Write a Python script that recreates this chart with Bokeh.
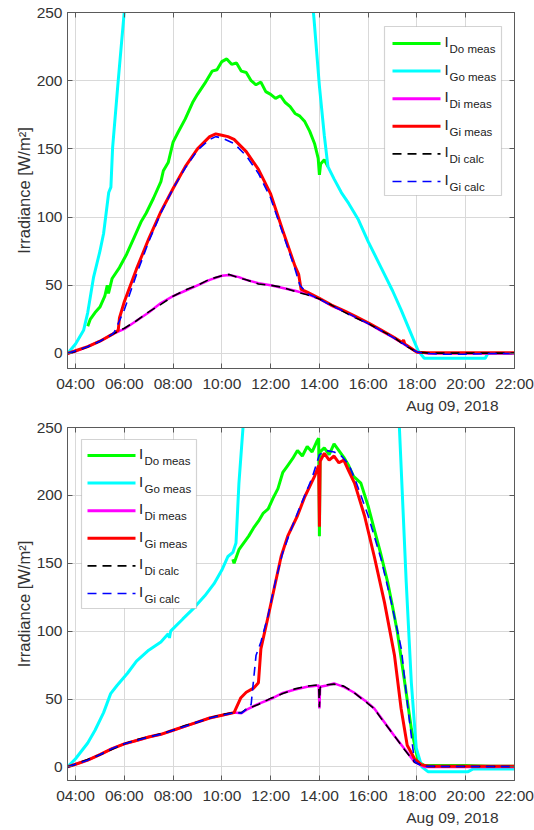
from bokeh.plotting import figure
from bokeh.layouts import column
from bokeh.models import Range1d, FixedTicker, LinearAxis, Label, Arrow, BoxAnnotation, Title
from bokeh.embed import file_html
from bokeh.resources import INLINE

# ---------------- data ----------------
x_ticks = [4, 6, 8, 10, 12, 14, 16, 18, 20, 22]
x_tick_labels = ["04:00", "06:00", "08:00", "10:00", "12:00", "14:00", "16:00", "18:00", "20:00", "22:00"]
y_ticks = [0, 50, 100, 150, 200, 250]
date_label = "Aug 09, 2018"
y_label = "Irradiance [W/m\u00b2]"
legend_main = "I"
legend_subs = ["Do meas", "Go meas", "Di meas", "Gi meas", "Di calc", "Gi calc"]

# ---- top panel ----
t_do_h = [4.5, 4.6, 4.8, 5.0, 5.2, 5.3, 5.35, 5.5, 5.8, 6.1, 6.4, 6.7, 6.9, 7.2, 7.5, 7.6, 7.8, 8.0, 8.2, 8.5,
          8.8, 9.0, 9.3, 9.6, 9.8, 10.0, 10.2, 10.4, 10.6, 10.8, 11.0, 11.2, 11.4, 11.6, 11.8, 12.0, 12.2, 12.4,
          12.6, 12.8, 13.0, 13.2, 13.4, 13.6, 13.8, 13.95, 14.0, 14.05, 14.2, 14.35]
t_do_v = [20, 25, 30, 34, 42, 50, 44, 55, 63, 73, 85, 97, 103, 114, 126, 134, 140, 155, 162, 172,
          184, 190, 198, 207, 208, 214, 216, 212, 213, 207, 206, 200, 197, 199, 192, 190, 187, 189,
          184, 181, 176, 174, 170, 163, 154, 143, 131, 139, 142, 137]

t_go_h = [3.67, 4.0, 4.33, 4.5, 4.74, 5.0, 5.15, 5.36, 5.45, 5.52, 5.73, 5.97, 6.2, 6.5, 8.0, 10.0, 12.0,
          13.3, 13.78, 14.0, 14.2, 14.35, 14.6, 14.9, 15.2, 15.6, 16.0, 16.53, 17.0, 17.35, 17.7, 18.05,
          18.3, 19.0, 20.0, 20.8, 20.9, 22.0]
t_go_v = [0, 7, 17, 30, 56, 75, 88, 118, 122, 151, 196, 245, 290, 340, 550, 650, 550,
          340, 245, 196, 160, 137, 128, 118, 110, 98, 82, 63, 46, 32, 17, 2,
          -3.5, -3.5, -3.5, -3.5, 0, 0]

t_di_h = [3.67, 4.0, 4.5, 5.0, 5.5, 6.0, 6.5, 7.0, 7.5, 8.0, 8.5, 9.0, 9.5, 10.0, 10.3, 10.7, 11.0, 11.5,
          12.0, 12.5, 13.0, 13.5, 14.0, 14.5, 15.0, 15.5, 16.0, 16.5, 17.0, 17.5, 18.0, 18.5, 19.0, 20.0,
          21.0, 22.0]
t_di_v = [0, 1.5, 5, 9, 14, 18, 24, 30, 37, 42, 46, 50, 54, 57, 57.5, 56, 54, 51.5,
          50, 48, 46, 43.5, 40, 35, 31, 26.5, 22, 17, 12, 6.5, 1, 0, 0, 0, 0, 0]
t_dic_v = [0, 1.5, 5, 9, 14, 18.5, 24, 30.5, 36, 42, 46.5, 50, 54.5, 57, 58, 55.5, 54, 51,
           50, 48.5, 45.5, 43, 40, 35.5, 30.5, 26, 22, 17, 12.5, 6, 1, 0.3, 0.3, 0.3, 0.3, 0.3]

t_gi_h = [3.67, 4.0, 4.5, 5.0, 5.5, 5.75, 5.8, 6.0, 6.5, 7.0, 7.5, 8.0, 8.5, 9.0, 9.5, 9.75, 10.0, 10.25,
          10.5, 11.0, 11.5, 12.0, 12.5, 13.0, 13.15, 13.25, 13.5, 14.0, 14.5, 15.0, 15.5, 16.0, 16.5,
          17.0, 17.4, 17.45, 17.5, 18.0, 18.5, 19.0, 20.0, 21.0, 22.0]
t_gi_v = [0, 2, 5, 9, 14, 17, 26, 38, 62, 84, 104, 121, 137, 150, 159, 161, 160, 159,
          157, 148, 135, 117, 90, 64, 58, 47, 45, 40.5, 35.5, 31.5, 27, 22.5, 17.5,
          12.5, 8, 10, 7, 1, 0.5, 0.5, 0.5, 0.5, 0.5]

t_gic_h = [3.67, 4.0, 4.5, 5.0, 5.5, 5.6, 6.0, 6.5, 7.0, 7.5, 8.0, 8.5, 9.0, 9.5, 9.75, 10.0, 10.5, 11.0,
           11.5, 12.0, 12.5, 13.0, 13.2, 13.5, 14.0, 14.5, 15.0, 15.5, 16.0, 16.5, 17.0, 17.5, 18.0,
           18.5, 19.0, 20.0, 21.0, 22.0]
t_gic_v = [0, 2, 5, 9, 14, 16, 32, 58, 82, 103, 121, 136, 149, 157, 159, 158, 154, 145,
           132, 114, 88, 62, 50, 44, 40, 35, 31, 26.5, 22, 17, 12, 6.5, 1,
           0, -0.5, -0.5, 0, 0]

# ---- bottom panel ----
b_do_h = [10.45, 10.5, 10.7, 10.9, 11.1, 11.3, 11.5, 11.7, 11.9, 12.1, 12.3, 12.5, 12.7, 12.9, 13.1, 13.3,
          13.5, 13.7, 13.9, 13.97, 14.0, 14.03, 14.2, 14.4, 14.6, 14.8, 15.0, 15.2, 15.4, 15.7, 16.0, 16.25,
          16.5, 16.8, 17.0, 17.2, 17.5, 17.77, 18.05, 18.3, 19.0, 20.0, 21.0, 22.0]
b_do_v = [153, 150, 160, 165, 170, 176, 181, 187, 190, 198, 205, 217, 222, 227, 233, 229,
          236, 232, 240, 242, 170, 232, 235, 230, 238, 233, 228, 222, 214, 209, 192, 175,
          158, 136, 118, 99, 62, 28, 4, 1, 1, 1, 0.5, 0.5]

b_go_h = [3.67, 4.0, 4.5, 4.8, 5.15, 5.44, 5.7, 6.13, 6.5, 7.0, 7.5, 7.8, 7.85, 7.9, 8.4, 8.85, 9.3, 9.68,
          10.0, 10.25, 10.45, 10.58, 10.7, 10.9, 11.2, 12.0, 14.0, 16.0, 17.0, 17.28, 17.56, 17.77, 17.97,
          18.2, 18.45, 20.1, 20.3, 22.0]
b_go_v = [0, 6, 17.6, 27, 40, 54, 60, 69, 78, 86, 92, 98, 95, 100, 109, 117, 126, 135,
          145, 155, 158, 165, 209, 258, 330, 500, 650, 500, 320, 250, 136, 62, 14,
          0, -3.5, -3.5, -1.5, -1.5]

b_di_h = [3.67, 4.0, 4.5, 5.0, 5.5, 6.0, 6.5, 7.0, 7.5, 8.0, 8.5, 9.0, 9.5, 10.0, 10.5, 10.8, 11.0, 11.5,
          12.0, 12.5, 13.0, 13.5, 13.97, 14.0, 14.03, 14.3, 14.6, 15.0, 15.4, 16.0, 16.25, 16.5, 17.07,
          17.5, 17.9, 18.3, 19.0, 20.0, 21.0, 22.0]
b_di_v = [0, 2, 5, 9, 13.5, 17, 19.5, 22, 24, 27, 30, 33, 36, 38, 40, 39.5, 42, 46.5,
          50, 54.5, 57, 59, 60, 43, 59, 60, 61.5, 59, 55, 47, 43, 37, 23,
          13, 3.7, 0, 0, 0, 0, 0]
b_dic_v = [0, 2, 5.5, 9, 13, 17, 20, 22, 24.5, 27, 30.5, 33, 36, 38.5, 40, 40, 42.5, 46,
           50.5, 54, 57.5, 59.5, 60.5, 44, 58.5, 60.5, 61, 59.5, 55, 46.5, 43, 36.5, 23,
           12.5, 3.5, 0.3, 0.3, 0.3, 0.3, 0.3]

b_gi_h = [3.67, 4.0, 4.5, 5.0, 5.5, 6.0, 6.5, 7.0, 7.5, 8.0, 8.5, 9.0, 9.5, 10.0, 10.5, 10.78, 11.0, 11.3,
          11.5, 11.6, 11.9, 12.2, 12.43, 12.7, 13.1, 13.4, 13.8, 13.97, 14.0, 14.03, 14.2, 14.4, 14.6, 14.8,
          15.0, 15.2, 15.44, 15.85, 16.25, 16.67, 17.08, 17.35, 17.6, 17.9, 18.2, 18.5, 19.0, 20.0, 21.0, 22.0]
b_gi_v = [0, 2, 5, 9, 13.5, 17, 19.5, 22, 24, 27, 30, 33, 36, 38, 40, 51, 55, 58,
          62, 87, 111, 136, 155, 170, 185, 199, 214, 222, 177, 225, 231, 226, 229, 224,
          226, 218, 209, 185, 155, 121, 82, 43, 16, 6, 1.5, 0.5, 0.5, 0.5, 0.5, 0.5]

b_gic_h = [3.67, 4.0, 4.5, 5.0, 5.5, 6.0, 6.5, 7.0, 7.5, 8.0, 8.5, 9.0, 9.5, 10.0, 10.5, 10.8, 11.1, 11.2,
           11.4, 11.6, 11.9, 12.2, 12.5, 12.8, 13.1, 13.4, 13.7, 14.0, 14.3, 14.6, 14.9, 15.2, 15.5, 16.0,
           16.53, 16.95, 17.36, 17.63, 17.9, 18.2, 19.0, 20.0, 21.0, 22.0]
b_gic_v = [0, 2, 5, 9, 13.5, 17, 19.5, 22, 24, 27, 30, 33, 36, 38, 40, 39.5, 44, 46,
           82, 92, 112, 137, 158, 173, 187, 200, 213, 230, 233, 232, 229, 223, 210, 185,
           153, 121, 87, 43, 4, 0.5, 0.3, 0.3, 0.3, 0.3]

# ---------------- styling ----------------
FONT = "Liberation Sans"
TXT = "#333333"
BOX = "#5a5a5a"
colors = ["#00ff00", "#00ffff", "#ff00ff", "#ff0000", "#000000", "#0000ff"]
widths = [3, 3, 2.5, 3, 1.6, 1.6]
dashes = ["solid", "solid", "solid", "solid", "9 6", "9 6"]


def make_panel(series, y_lo, frame_h, bottom_border, leg):
    p = figure(frame_width=447, frame_height=frame_h, output_backend="svg", toolbar_location=None,
               x_range=Range1d(3.67, 22), y_range=Range1d(y_lo, 250),
               min_border_left=67, min_border_right=20, min_border_top=12,
               min_border_bottom=bottom_border, background_fill_color="white",
               border_fill_color="white")
    p.outline_line_color = BOX
    p.outline_line_width = 1
    p.xaxis.ticker = FixedTicker(ticks=x_ticks)
    p.xaxis.major_label_overrides = dict(zip(x_ticks, x_tick_labels))
    p.yaxis.ticker = FixedTicker(ticks=y_ticks)
    p.yaxis.axis_label = y_label
    for ax in (p.xaxis[0], p.yaxis[0]):
        ax.major_label_text_font = FONT
        ax.major_label_text_font_size = "15.5px"
        ax.major_label_text_color = TXT
        ax.axis_line_color = BOX
        ax.major_tick_line_color = BOX
        ax.major_tick_in = 5
        ax.major_tick_out = 0
        ax.minor_tick_line_color = None
    p.xaxis.major_label_standoff = 6
    p.yaxis.major_label_standoff = 5
    p.yaxis.axis_label_text_font = FONT
    p.yaxis.axis_label_text_font_size = "16.5px"
    p.yaxis.axis_label_text_font_style = "normal"
    p.yaxis.axis_label_text_color = TXT
    p.yaxis.axis_label_standoff = 1
    # mirrored tick marks on right and top (no labels)
    for loc, tks in (("right", y_ticks), ("above", x_ticks)):
        ax = LinearAxis(ticker=FixedTicker(ticks=tks), major_label_text_font_size="1px",
                        major_label_text_color=None, axis_line_color=BOX,
                        major_tick_line_color=BOX, major_tick_in=5, major_tick_out=0,
                        minor_tick_line_color=None, major_label_standoff=0)
        p.add_layout(ax, loc)
    p.grid.grid_line_color = "#d9d9d9"
    p.grid.grid_line_width = 1
    p.xgrid.ticker = FixedTicker(ticks=x_ticks)
    p.ygrid.ticker = FixedTicker(ticks=y_ticks)

    for (hx, vy), c, w, d in zip(series, colors, widths, dashes):
        p.line(hx, vy, line_color=c, line_width=w, line_dash=d)

    date_t = Title(text=date_label, align="right", text_font=FONT, text_font_size="15.5px",
                   text_font_style="normal", text_color=TXT, offset=16, standoff=0)
    p.add_layout(date_t, "below")

    # legend (frame pixel coords from top-left)
    bl, bt, br, bb = leg["box"]
    p.add_layout(BoxAnnotation(left=bl, right=br, top=frame_h - bt, bottom=frame_h - bb,
                               left_units="screen", right_units="screen",
                               top_units="screen", bottom_units="screen",
                               fill_color="white", fill_alpha=1.0, line_color="#6e6e6e",
                               line_width=1.2))
    for i, sub in enumerate(legend_subs):
        yy = leg["y0"] + i * leg["dy"]
        sy = frame_h - yy
        p.add_layout(Arrow(x_start=leg["x0"], y_start=sy, x_end=leg["x1"], y_end=sy,
                           start_units="screen", end_units="screen", start=None, end=None,
                           line_color=colors[i], line_width=3 if i < 4 else 1.6,
                           line_dash=dashes[i]))
        p.add_layout(Label(x=leg["xi"], y=sy + 2, x_units="screen", y_units="screen",
                           text=legend_main, text_font=FONT, text_font_size="15px",
                           text_color="#222222", text_baseline="middle", text_align="left"))
        p.add_layout(Label(x=leg["xs"], y=sy - 5.5, x_units="screen", y_units="screen",
                           text=sub, text_font=FONT, text_font_size="11.5px",
                           text_color="#222222", text_baseline="middle", text_align="left"))
    return p


top_series = [(t_do_h, t_do_v), (t_go_h, t_go_v), (t_di_h, t_di_v), (t_gi_h, t_gi_v),
              (t_di_h, t_dic_v), (t_gic_h, t_gic_v)]
bot_series = [(b_do_h, b_do_v), (b_go_h, b_go_v), (b_di_h, b_di_v), (b_gi_h, b_gi_v),
              (b_di_h, b_dic_v), (b_gic_h, b_gic_v)]

p1 = make_panel(top_series, -11, 356, 47,
                dict(box=(317, 14, 434, 183), y0=31, dy=27.6, x0=325, x1=373, xi=377, xs=382))
p2 = make_panel(bot_series, -10, 353, 50,
                dict(box=(14, 12, 129, 181), y0=28, dy=27.6, x0=20, x1=68, xi=71.5, xs=77))

layout = column(p1, p2, spacing=0)
open("out.html", "w").write(file_html(layout, INLINE))
